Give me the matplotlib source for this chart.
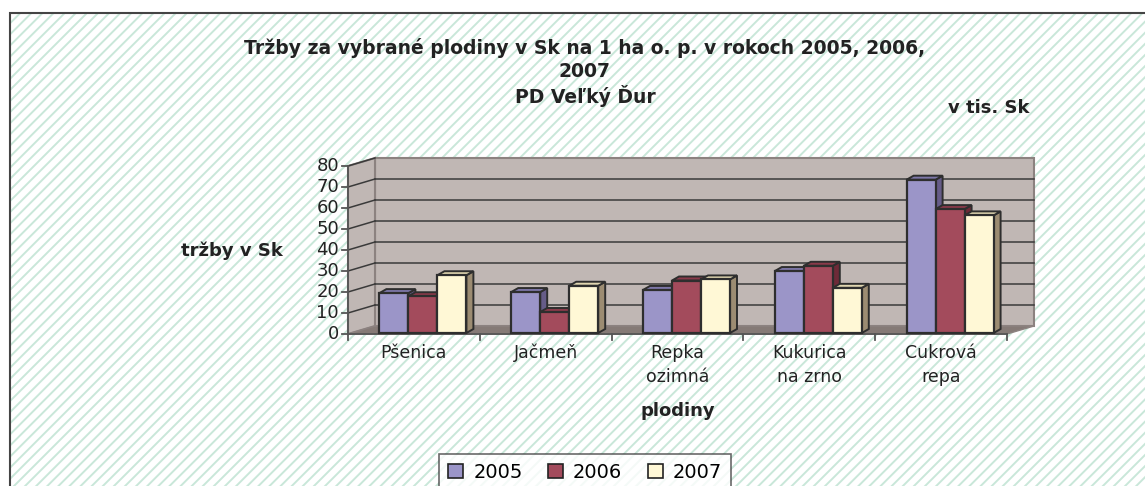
import matplotlib
matplotlib.use('Agg')
import matplotlib.pyplot as plt
from matplotlib.patches import Rectangle, Polygon

# data (v tis. Sk na 1 ha)
plodiny = ['Pšenica', 'Jačmeň', 'Repka\nozimná', 'Kukurica\nna zrno', 'Cukrová\nrepa']
roky = ['2005', '2006', '2007']
v2005 = [19, 19.5, 20.5, 29.5, 73]
v2006 = [17.5, 10, 25, 32, 59]
v2007 = [27.5, 22.5, 25.5, 21.5, 56]
yticks = [0, 10, 20, 30, 40, 50, 60, 70, 80]

front_c = ['#9b95c8', '#a34b5c', '#fff8d6']
top_c = ['#7d77a8', '#8a3a4a', '#e0d6b0']
side_c = ['#665c88', '#6e2a38', '#9c8c72']

W, H = 1145, 486
plt.rcParams['font.family'] = ['DejaVu Sans']
plt.rcParams['hatch.linewidth'] = 1.4
fig = plt.figure(figsize=(W / 100, H / 100), dpi=100)

# hatched background + frame
bg = Rectangle((10 / W, 0), 1, 1 - 13 / H, transform=fig.transFigure, facecolor='white',
               edgecolor='#c9e7d9', hatch='///', lw=0, zorder=-10)
fig.patches.append(bg)
frame = Rectangle((10 / W, -0.1), 1.1, 1.1 - 13 / H, transform=fig.transFigure, fill=False,
                  edgecolor='#444444', lw=1.5, zorder=-9)
fig.patches.append(frame)

# front plane of plot area in pixels
x0, x1 = 348, 1007
yb, yt = 334, 166
ax = fig.add_axes([x0 / W, 1 - yb / H, (x1 - x0) / W, (yb - yt) / H])
ax.set_xlim(0, 5)
ax.set_ylim(0, 80)
ax.axis('off')
sx = (x1 - x0) / 5.0
sy = (yb - yt) / 80.0

# wall depth
dx, dy = 27 / sx, 8 / sy
wall = '#c0b7b4'
edge = '#8c8280'
ax.add_patch(Polygon([(dx, dy), (5 + dx, dy), (5 + dx, 80 + dy), (dx, 80 + dy)],
                     closed=True, facecolor=wall, edgecolor=edge, lw=1.5, zorder=1, clip_on=False))
ax.add_patch(Polygon([(0, 0), (dx, dy), (dx, 80 + dy), (0, 80)],
                     closed=True, facecolor=wall, edgecolor=edge, lw=1.5, zorder=1, clip_on=False))
ax.add_patch(Polygon([(0, 0), (5, 0), (5 + dx, dy), (dx, dy)],
                     closed=True, facecolor='#857a76', edgecolor=edge, lw=1, zorder=1, clip_on=False))
for v in yticks[1:-1]:
    ax.plot([dx, 5 + dx], [v + dy, v + dy], color='#3a3a3a', lw=1.1, zorder=2, clip_on=False)
for v in yticks[1:]:
    ax.plot([0, dx], [v, v + dy], color='#3a3a3a', lw=1.1, zorder=2, clip_on=False)

# axes lines and ticks
ax.plot([0, 0], [0, 80], color='#555555', lw=1.3, zorder=3, clip_on=False)
ax.plot([0, 5], [0, 0], color='#555555', lw=1.3, zorder=3, clip_on=False)
tk = 6 / sx
for v in yticks:
    ax.plot([-tk, 0], [v, v], color='#555555', lw=1.3, zorder=3, clip_on=False)
    ax.text(-9 / sx, v, str(v), ha='right', va='center', fontsize=13, color='#222222')
for i in range(6):
    ax.plot([i, i], [0, -6 / sy], color='#555555', lw=1.3, zorder=3, clip_on=False)
for i, lab in enumerate(plodiny):
    ax.text(i + 0.5, -10 / sy, lab, ha='center', va='top', fontsize=12.5, color='#222222',
            linespacing=1.4)

# 3d bars
w = 0.22
bdx, bdy = 9 / sx, 1 / sy
ddx, ddy = 7 / sx, 4 / sy
series = [v2005, v2006, v2007]
z = 5
for i in range(len(plodiny)):
    for k in range(3):
        h = series[k][i]
        xl = i + 0.5 - 1.5 * w + k * w + bdx
        xr = xl + w
        ax.add_patch(Polygon([(xr, bdy), (xr + ddx, bdy + ddy), (xr + ddx, bdy + h + ddy), (xr, bdy + h)],
                             closed=True, facecolor=side_c[k], edgecolor='#2e2e2e', lw=1.4,
                             zorder=z, clip_on=False))
        ax.add_patch(Polygon([(xl, bdy + h), (xr, bdy + h), (xr + ddx, bdy + h + ddy), (xl + ddx, bdy + h + ddy)],
                             closed=True, facecolor=top_c[k], edgecolor='#2e2e2e', lw=1.4,
                             zorder=z, clip_on=False))
        ax.bar(xl, h, w, bottom=bdy, align='edge', color=front_c[k], edgecolor='#2e2e2e',
               lw=1.6, zorder=z + 1, clip_on=False)
        z += 2

# texts
fig.text(585 / W, 1 - 38 / H, 'Tržby za vybrané plodiny v Sk na 1 ha o. p. v rokoch 2005, 2006,\n2007\nPD Veľký Ďur',
         ha='center', va='top', fontsize=13.5, fontweight='bold', color='#222222', linespacing=1.25)
fig.text(1030 / W, 1 - 108 / H, 'v tis. Sk', ha='right', va='center',
         fontsize=13, fontweight='bold', color='#222222')
fig.text(283 / W, 1 - 251 / H, 'tržby v Sk', ha='right', va='center', fontsize=13,
         fontweight='bold', color='#222222')
fig.text(678 / W, 1 - 411 / H, 'plodiny', ha='center', va='center', fontsize=13,
         fontweight='bold', color='#222222')

# legend
handles = [Rectangle((0, 0), 1, 1, facecolor=front_c[k], edgecolor='#222222', lw=1.2) for k in range(3)]
leg = fig.legend(handles, roky, loc='upper center', bbox_to_anchor=(585 / W, 1 - 454 / H), ncol=3,
                 fontsize=14, frameon=True, fancybox=False, edgecolor='#444444', handlelength=0.8,
                 handleheight=0.8, handletextpad=0.5, columnspacing=1.3, borderpad=0.45,
                 borderaxespad=0)
leg.get_frame().set_linewidth(1.2)

plt.savefig('out.png', dpi=100)
